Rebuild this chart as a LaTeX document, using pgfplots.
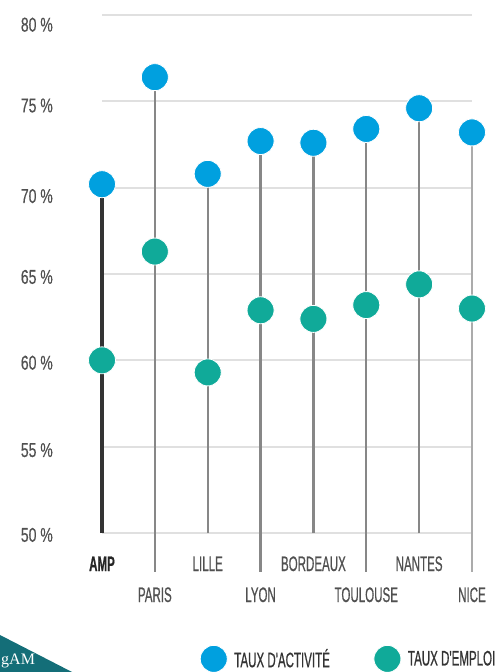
\documentclass[border=0pt]{standalone}
\usepackage{pgfplots}
\pgfplotsset{compat=1.18}
\usepackage{fontspec}
\setmainfont{Liberation Sans}
\newfontfamily\catfont{Liberation Sans}[FakeStretch=0.55, FakeBold=0.6]
\newfontfamily\tickfont{Liberation Sans}[FakeStretch=0.7, FakeBold=0.4]
\newfontfamily\logofont{Liberation Serif}
\definecolor{actblue}{RGB}{0,160,223}
\definecolor{empteal}{RGB}{16,170,153}
\definecolor{gridgray}{RGB}{224,224,224}
\definecolor{stemgray}{RGB}{135,135,135}
\definecolor{labgray}{RGB}{80,80,80}
\definecolor{logoteal}{RGB}{20,110,120}
\begin{document}
\begin{tikzpicture}
\path[use as bounding box] (0,0) rectangle (497pt,672pt);
\fill[logoteal] (0,0) -- (0,37pt) -- (72pt,0) -- cycle;
\node[text=white, inner sep=0pt, anchor=base west] at (1pt,7pt) {\logofont\fontsize{16}{16}\selectfont gAM};
\begin{axis}[
  at={(102pt,139pt)}, anchor=south west,
  scale only axis, width=370pt, height=518pt,
  xmin=0, xmax=7, ymin=50, ymax=80,
  clip=false,
  axis line style={draw=none},
  major tick length=0pt,
  ytick={50,55,60,65,70,75,80},
  yticklabels={\raisebox{-8.8pt}{50 \%},\raisebox{-10.3pt}{55 \%},\raisebox{-9.3pt}{60 \%},\raisebox{-9.8pt}{65 \%},\raisebox{-15.3pt}{70 \%},\raisebox{-11pt}{75 \%},\raisebox{-16.6pt}{80 \%}},
  yticklabel style={anchor=base east, inner sep=0pt, xshift=-49pt,
    font={\tickfont\fontsize{20}{20}\selectfont}, text=labgray},
  ymajorgrids, grid style={gridgray, line width=1.8pt},
  xtick={0,2,4,6},
  xticklabels={{\color{black!85}\bfseries AMP},LILLE,BORDEAUX,NANTES},
  extra x ticks={1,3,5,7},
  extra x tick labels={\raisebox{-31pt}{PARIS},\raisebox{-31pt}{LYON},\raisebox{-31pt}{TOULOUSE},\raisebox{-31pt}{NICE}},
  xticklabel style={anchor=base, inner sep=0pt, yshift=-38pt,
    font={\catfont\fontsize{21}{21}\selectfont}, text=labgray},
  legend style={draw=none, fill=none, inner sep=0pt, at={(0.265,-0.243)}, anchor=west,
    font={\catfont\fontsize{21}{21}\selectfont}, text=black!80,
    /tikz/every odd column/.append style={column sep=5pt},
    /tikz/every even column/.append style={column sep=42pt}},
  legend columns=2,
  legend cell align=left,
  legend image code/.code={\draw[#1] plot coordinates {(0pt,0pt)};},
]
% stems
\addplot[forget plot, black!80, line width=3.5pt] coordinates {(0,50) (0,70.2)};
\addplot[forget plot, stemgray, line width=2.2pt] coordinates {(1,47.75) (1,76.4)};
\addplot[forget plot, stemgray, line width=2.2pt] coordinates {(2,50) (2,70.8)};
\addplot[forget plot, stemgray, line width=2.2pt] coordinates {(3,47.75) (3,72.7)};
\addplot[forget plot, stemgray, line width=2.2pt] coordinates {(4,50) (4,72.6)};
\addplot[forget plot, stemgray, line width=2.2pt] coordinates {(5,47.75) (5,73.4)};
\addplot[forget plot, stemgray, line width=2.2pt] coordinates {(6,50) (6,74.6)};
\addplot[forget plot, stemgray!70, line width=2.0pt] coordinates {(7,47.75) (7,73.2)};
% taux d'activite
\addplot[only marks, mark=*, mark size=13.5pt, mark options={fill=actblue, draw=white, line width=0.8pt}]
  coordinates {(0,70.2) (1,76.4) (2,70.8) (3,72.7) (4,72.6) (5,73.4) (6,74.6) (7,73.2)};
\addlegendentry{TAUX D'ACTIVITÉ}
% taux d'emploi
\addplot[only marks, mark=*, mark size=13.5pt, mark options={fill=empteal, draw=white, line width=0.8pt}]
  coordinates {(0,60.0) (1,66.3) (2,59.3) (3,62.9) (4,62.4) (5,63.2) (6,64.4) (7,63.0)};
\addlegendentry{TAUX D'EMPLOI}
\end{axis}
\end{tikzpicture}
\end{document}
